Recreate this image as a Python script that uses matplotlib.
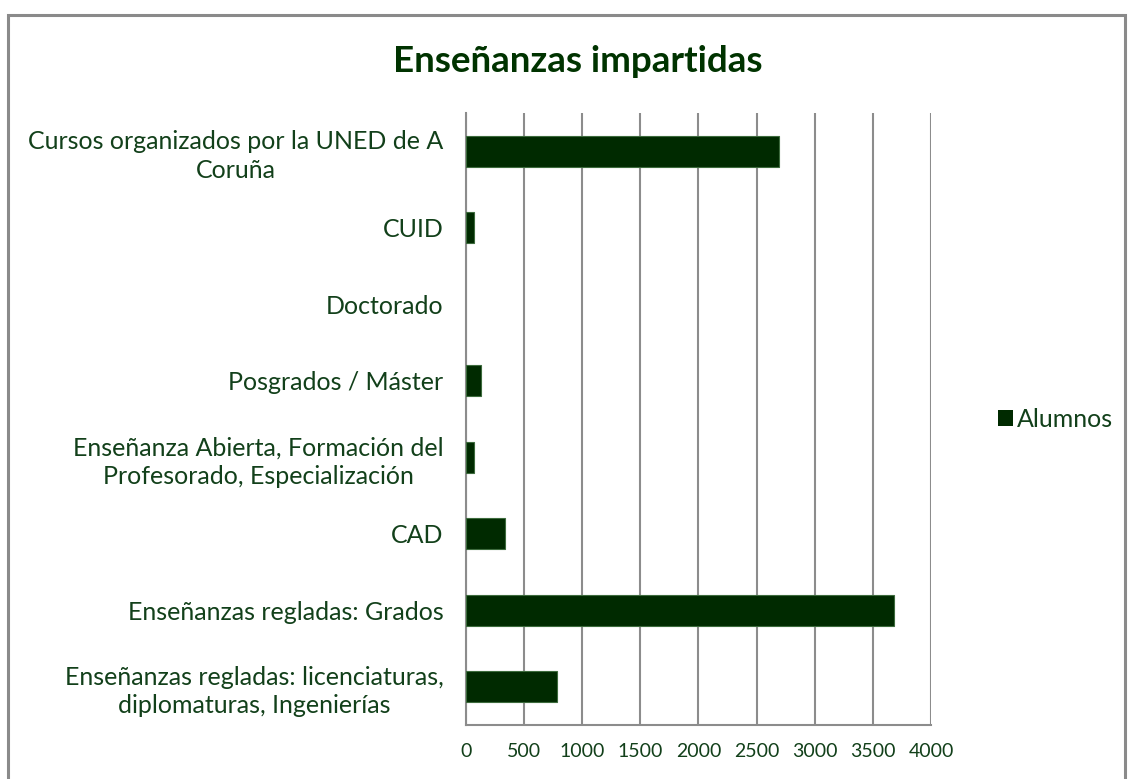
import matplotlib.pyplot as plt
from matplotlib.patches import Rectangle

plt.rcParams['font.family'] = ['Lato', 'DejaVu Sans']

# categories from bottom to top
categorias = [
    'Enseñanzas regladas: licenciaturas,\ndiplomaturas, Ingenierías',
    'Enseñanzas regladas: Grados',
    'CAD',
    'Enseñanza Abierta, Formación del\nProfesorado, Especialización',
    'Posgrados / Máster',
    'Doctorado',
    'CUID',
    'Cursos organizados por la UNED de A\nCoruña',
]
alumnos = [787, 3684, 335, 71, 129, 0, 71, 2696]
ticks_x = [0, 500, 1000, 1500, 2000, 2500, 3000, 3500, 4000]

bar_color = '#002a00'
text_color = '#12401a'
grid_color = '#8c8c8c'

fig = plt.figure(figsize=(11.31, 7.79), dpi=100, facecolor='white')

# outer chart frame
fig.patches.append(Rectangle((8 / 1131, -0.05), 1117 / 1131, 1 - 15 / 779 + 0.05,
                             transform=fig.transFigure, fill=False,
                             edgecolor='#8a8a8a', linewidth=2.2))

ax = fig.add_axes([465.7 / 1131, 1 - 725 / 779, (931 - 465.7) / 1131, (725 - 113) / 779])
ypos = list(range(len(categorias)))
edges = ['#3d6b3d' if v > 0 else 'none' for v in alumnos]
ax.barh(ypos, alumnos, height=0.4, color=bar_color, edgecolor=edges,
        linewidth=0.8, zorder=3, label='Alumnos')

ax.set_xlim(0, 4000)
ax.set_ylim(-0.5, len(categorias) - 0.5)
ax.set_xticks(ticks_x)
ax.set_xticklabels([str(t) for t in ticks_x])
ax.set_yticks(ypos)
ax.set_yticklabels(categorias, multialignment='center', linespacing=1.3)
ax.tick_params(axis='both', length=0, labelcolor=text_color)
ax.tick_params(axis='y', pad=16, labelsize=18)
ax.tick_params(axis='x', pad=13, labelsize=14)

ax.grid(axis='x', color=grid_color, linewidth=1.5, zorder=0)
ax.set_axisbelow(True)
for side in ['top', 'right']:
    ax.spines[side].set_visible(False)
for side in ['left', 'bottom']:
    ax.spines[side].set_color(grid_color)
    ax.spines[side].set_linewidth(1.5)

fig.text(578 / 1131, 1 - 61 / 779, 'Enseñanzas impartidas', ha='center', va='center',
         fontsize=26.5, fontweight='bold', color='#003300')

leg = ax.legend(loc='center left', bbox_to_anchor=(1.145, 0.5), frameon=False,
                fontsize=18, handlelength=0.6, handleheight=0.6, handletextpad=0.15,
                borderpad=0, borderaxespad=0, labelcolor=text_color)
leg.legend_handles[0].set_edgecolor('none')

fig.savefig('out.png', dpi=100, facecolor='white')
